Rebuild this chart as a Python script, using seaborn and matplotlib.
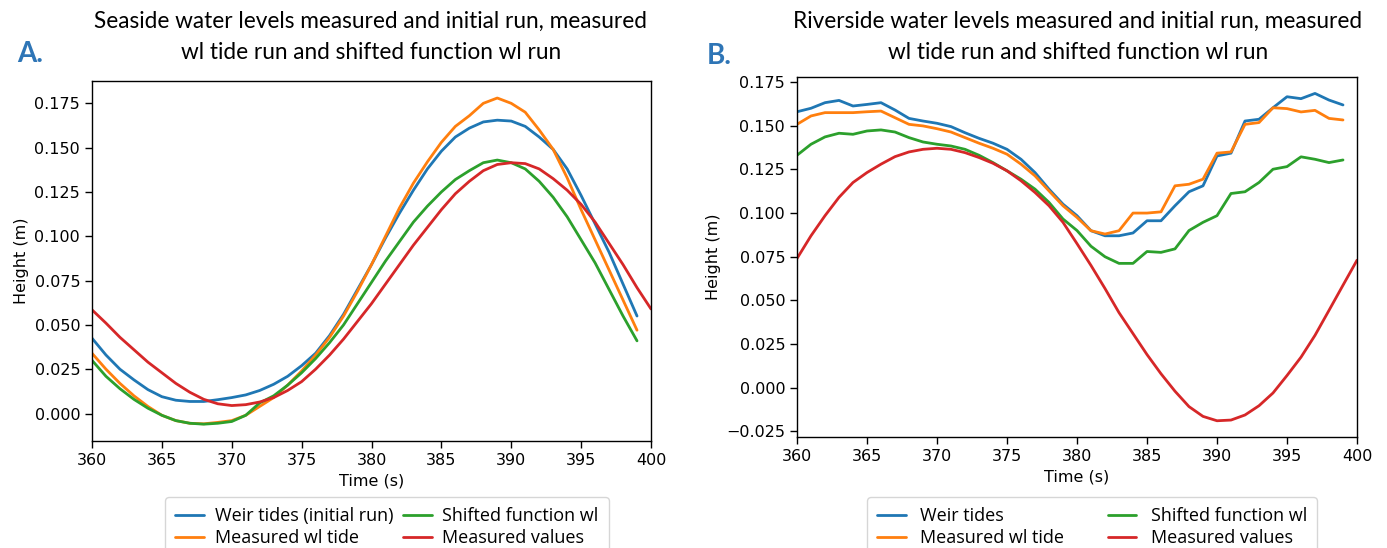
import numpy as np
import pandas as pd
import matplotlib
matplotlib.use("Agg")
import matplotlib.pyplot as plt
import seaborn as sns
from matplotlib.lines import Line2D

# ---------------- data ----------------
t_model = list(range(360, 400))      # 360..399
t_meas = list(range(360, 401))       # 360..400

sea_weir = [0.0425, 0.033, 0.025, 0.019, 0.0135, 0.0095, 0.0075, 0.0068, 0.0068, 0.0078,
            0.009, 0.0105, 0.013, 0.0165, 0.021, 0.027, 0.034, 0.044, 0.056, 0.070,
            0.084, 0.099, 0.113, 0.126, 0.138, 0.148, 0.156, 0.161, 0.1645, 0.1655,
            0.165, 0.162, 0.156, 0.149, 0.138, 0.123, 0.107, 0.091, 0.073, 0.055]
sea_meas_tide = [0.034, 0.025, 0.017, 0.010, 0.004, -0.001, -0.004, -0.0055, -0.0058, -0.005,
                 -0.004, -0.001, 0.004, 0.009, 0.016, 0.024, 0.033, 0.043, 0.055, 0.069,
                 0.084, 0.100, 0.116, 0.130, 0.142, 0.153, 0.162, 0.168, 0.175, 0.178,
                 0.175, 0.170, 0.160, 0.149, 0.133, 0.115, 0.098, 0.081, 0.064, 0.047]
sea_shifted = [0.030, 0.021, 0.014, 0.008, 0.003, -0.001, -0.004, -0.0055, -0.006, -0.0055,
               -0.0045, -0.001, 0.006, 0.010, 0.016, 0.023, 0.031, 0.040, 0.050, 0.062,
               0.074, 0.086, 0.097, 0.108, 0.117, 0.125, 0.132, 0.137, 0.1415, 0.143,
               0.1415, 0.138, 0.131, 0.122, 0.111, 0.098, 0.085, 0.070, 0.055, 0.041]
sea_measured = [0.0585, 0.051, 0.043, 0.036, 0.029, 0.023, 0.017, 0.012, 0.008, 0.0055,
                0.0045, 0.005, 0.0065, 0.009, 0.013, 0.018, 0.025, 0.033, 0.042, 0.052,
                0.062, 0.073, 0.084, 0.095, 0.105, 0.115, 0.124, 0.131, 0.137, 0.1405,
                0.1415, 0.141, 0.138, 0.1325, 0.126, 0.118, 0.108, 0.096, 0.084, 0.071,
                0.059]

riv_weir = [0.158, 0.160, 0.1632, 0.1645, 0.1613, 0.1622, 0.1632, 0.159, 0.1542, 0.1527,
            0.1514, 0.1495, 0.146, 0.1428, 0.140, 0.1365, 0.1308, 0.1232, 0.1137, 0.1051,
            0.0985, 0.0899, 0.087, 0.087, 0.0886, 0.0956, 0.0956, 0.1042, 0.1122, 0.1156,
            0.1327, 0.1343, 0.1527, 0.1537, 0.1603, 0.1666, 0.1655, 0.1685, 0.1647, 0.1619]
riv_meas_tide = [0.1508, 0.1556, 0.1575, 0.1575, 0.1575, 0.158, 0.1584, 0.1546, 0.1508, 0.1499,
                 0.1483, 0.1464, 0.1432, 0.140, 0.1371, 0.1337, 0.128, 0.1213, 0.1127, 0.1042,
                 0.0975, 0.0899, 0.088, 0.0899, 0.100, 0.100, 0.1007, 0.1156, 0.1165, 0.1194,
                 0.1343, 0.135, 0.1508, 0.1518, 0.1603, 0.1598, 0.1579, 0.1588, 0.1542, 0.1533]
riv_shifted = [0.1331, 0.1394, 0.1436, 0.1457, 0.1451, 0.147, 0.1476, 0.1464, 0.1432, 0.1407,
               0.1394, 0.1384, 0.1365, 0.1331, 0.1289, 0.1242, 0.1194, 0.1137, 0.1061, 0.0966,
               0.090, 0.081, 0.075, 0.0712, 0.0712, 0.078, 0.0775, 0.0795, 0.090, 0.0947,
               0.0985, 0.1112, 0.1122, 0.1175, 0.1251, 0.1266, 0.1322, 0.1308, 0.1289, 0.1304]
riv_measured = [0.074, 0.087, 0.0985, 0.109, 0.1175, 0.1232, 0.128, 0.1323, 0.135, 0.1365,
                0.1371, 0.1365, 0.1346, 0.1318, 0.1285, 0.1242, 0.1185, 0.1118, 0.1042, 0.0947,
                0.0825, 0.0700, 0.0568, 0.0430, 0.0310, 0.0190, 0.008, -0.002, -0.0108, -0.0164,
                -0.0189, -0.0185, -0.0156, -0.0103, -0.003, 0.007, 0.0175, 0.030, 0.0443, 0.0587,
                0.073]

left_labels = ["Weir tides (initial run)", "Measured wl tide", "Shifted function wl", "Measured values"]
right_labels = ["Weir tides", "Measured wl tide", "Shifted function wl", "Measured values"]

left_title = "Seaside water levels measured and initial run, measured\nwl tide run and shifted function wl run"
right_title = "Riverside water levels measured and initial run, measured\nwl tide run and shifted function wl run"


def long_frame(series, labels):
    rows = []
    for (t, v), lab in zip(series, labels):
        rows.append(pd.DataFrame({"Time (s)": t, "Height (m)": v, "series": lab}))
    return pd.concat(rows, ignore_index=True)


df_left = long_frame([(t_model, sea_weir), (t_model, sea_meas_tide), (t_model, sea_shifted),
                      (t_meas, sea_measured)], left_labels)
df_right = long_frame([(t_model, riv_weir), (t_model, riv_meas_tide), (t_model, riv_shifted),
                       (t_meas, riv_measured)], right_labels)

# ---------------- styling ----------------
sns.set_style("ticks")
plt.rcParams["font.family"] = ["DejaVu Sans"]
plt.rcParams["axes.edgecolor"] = "black"
plt.rcParams["xtick.color"] = "black"
plt.rcParams["ytick.color"] = "black"
plt.rcParams["axes.labelcolor"] = "black"
plt.rcParams["text.color"] = "black"
palette = sns.color_palette("tab10", 4)

W, H = 1387, 548
fig = plt.figure(figsize=(W / 100, H / 100), dpi=100)

ax1 = fig.add_axes([92 / W, (H - 441) / H, 559 / W, 360 / H])
ax2 = fig.add_axes([797 / W, (H - 437) / H, 560 / W, 360 / H])

for ax, df, labels in [(ax1, df_left, left_labels), (ax2, df_right, right_labels)]:
    sns.lineplot(data=df, x="Time (s)", y="Height (m)", hue="series", hue_order=labels,
                 palette=palette, linewidth=2.0, ax=ax, legend=False, sort=False,
                 estimator=None)
    ax.set_xlim(360, 400)
    ax.set_xticks(range(360, 401, 5))
    ax.tick_params(labelsize=11.5, length=5, width=1, direction="out")
    ax.set_xlabel("Time (s)", fontsize=11.5)
    ax.set_ylabel("Height (m)", fontsize=11.5)
    for s in ax.spines.values():
        s.set_linewidth(1.0)
        s.set_visible(True)

ax1.set_ylim(-0.0155, 0.1876)
ax1.set_yticks(np.arange(0.0, 0.176, 0.025))
ax2.set_ylim(-0.0282, 0.1779)
ax2.set_yticks(np.arange(-0.025, 0.176, 0.025))
ax1.yaxis.set_major_formatter(matplotlib.ticker.FormatStrFormatter("%.3f"))
ax2.yaxis.set_major_formatter(matplotlib.ticker.FuncFormatter(
    lambda v, p: ("\u2212%.3f" % abs(v)) if v < -1e-9 else "%.3f" % abs(v)))

# titles
fig.text(371 / W, 1 - 37 / H, left_title, ha="center", va="center", fontsize=16.3,
         family="Lato", linespacing=1.6)
fig.text(1078 / W, 1 - 37 / H, right_title, ha="center", va="center", fontsize=16.3,
         family="Lato", linespacing=1.6)
fig.text(17 / W, 1 - 54 / H, "A.", ha="left", va="center", fontsize=20, family="Lato",
         weight="bold", color="#2E75B6")
fig.text(707 / W, 1 - 56 / H, "B.", ha="left", va="center", fontsize=20, family="Lato",
         weight="bold", color="#2E75B6")


# legends
def handles(labels):
    return [Line2D([0], [0], color=palette[i], lw=2.0) for i in range(4)]


leg_font = {"family": "Open Sans", "size": 13.0}
fig.legend(handles(left_labels), left_labels, ncol=2, loc="upper center",
           bbox_to_anchor=(387 / W, 1 - 497 / H), prop=leg_font, frameon=True,
           columnspacing=0.5, labelspacing=0.25, handlelength=1.6, handletextpad=0.6,
           borderpad=0.55, borderaxespad=0.0)
fig.legend(handles(right_labels), right_labels, ncol=2, loc="upper center",
           bbox_to_anchor=(1092 / W, 1 - 497 / H), prop=leg_font, frameon=True,
           columnspacing=2.4, labelspacing=0.25, handlelength=1.6, handletextpad=0.8,
           borderpad=0.55, borderaxespad=0.0)

fig.savefig("out.png", dpi=100)
